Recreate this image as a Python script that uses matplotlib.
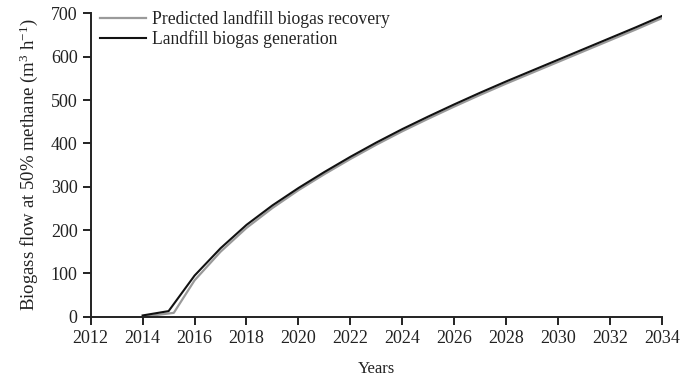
import matplotlib
matplotlib.use("Agg")
import matplotlib.pyplot as plt

plt.rcParams['font.family'] = ['Liberation Serif', 'DejaVu Serif']
plt.rcParams['mathtext.fontset'] = 'custom'
plt.rcParams['mathtext.rm'] = 'Liberation Serif'
plt.rcParams['mathtext.it'] = 'Liberation Serif:italic'

gen_years = [2014, 2015, 2016, 2017, 2018, 2019, 2020, 2021, 2022, 2023, 2024,
             2025, 2026, 2027, 2028, 2029, 2030, 2031, 2032, 2033, 2034]
generation = [3, 13, 95, 158, 212, 257, 297, 334, 369, 402, 433,
              462, 490, 517, 543, 568, 593, 618, 643, 668, 694]

rec_years = [2014, 2015.2, 2016, 2017, 2018, 2019, 2020, 2021, 2022, 2023, 2024,
             2025, 2026, 2027, 2028, 2029, 2030, 2031, 2032, 2033, 2034]
recovery = [0, 9, 84, 150, 205, 251, 292, 329, 364, 397, 428,
            457, 485, 512, 538, 563, 588, 613, 638, 663, 689]

xticks = list(range(2012, 2035, 2))
yticks = list(range(0, 701, 100))

fig = plt.figure(figsize=(6.8, 3.83), dpi=100)
ax = fig.add_axes([0.1334, 0.173, 0.840, 0.792])

ax.plot(rec_years, recovery, color='#9a9a9a', lw=1.6, label='Predicted landfill biogas recovery')
ax.plot(gen_years, generation, color='#111111', lw=1.5, label='Landfill biogas generation')

ax.set_xlim(2012, 2034)
ax.set_ylim(0, 700)
ax.set_xticks(xticks)
ax.set_yticks(yticks)
ax.spines['top'].set_visible(False)
ax.spines['right'].set_visible(False)
for s in ['left', 'bottom']:
    ax.spines[s].set_linewidth(1.4)
    ax.spines[s].set_color('#222222')
ax.tick_params(direction='out', length=6, width=1.4, colors='#222222', labelsize=13, labelcolor='#222222')
ax.set_xlabel('Years', fontsize=12, color='#222222', labelpad=10)
ax.set_ylabel('Biogass flow at 50% methane (m$^{3}$ h$^{-1}$)', fontsize=13.5, color='#222222', labelpad=8)

leg = ax.legend(loc='upper left', frameon=False, fontsize=12.7, handlelength=2.6,
                handletextpad=0.35, borderaxespad=0.0, labelspacing=0.1,
                bbox_to_anchor=(0.004, 1.033))
for t in leg.get_texts():
    t.set_color('#222222')

fig.savefig('out.png', dpi=100)
